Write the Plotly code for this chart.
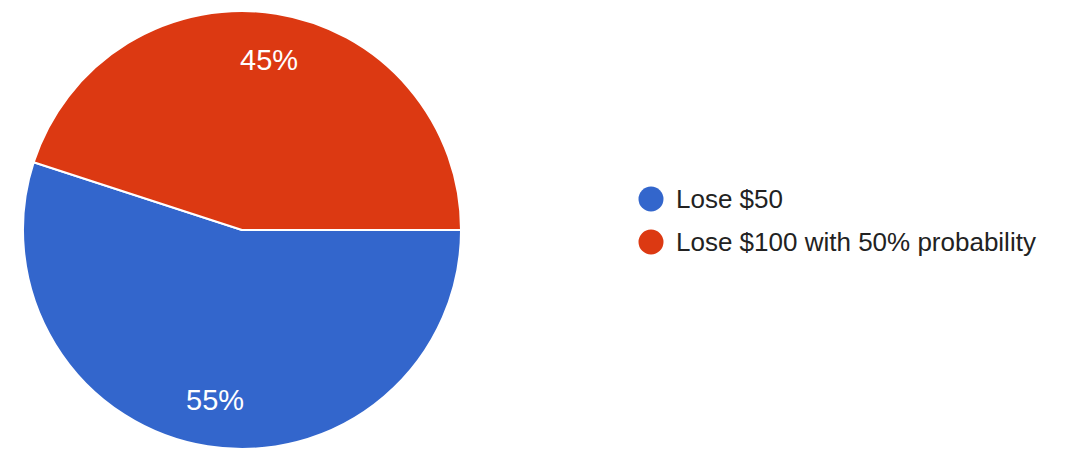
import math
import plotly.graph_objects as go

# Survey answers and their share of responses
categories = ["Lose $50", "Lose $100 with 50% probability"]
shares = [55, 45]
colors = ["#3366cc", "#dc3912"]

W, H = 1068, 449
FONT = "Liberation Sans, Arial, sans-serif"

# Pie geometry (pixels): centre and radius that follow from the domain below
cx_px, cy_px = 242, 230
dom_x = [0.0215, 0.4317]
dom_y = [0.0, 0.9756]
radius_px = min((dom_x[1] - dom_x[0]) * W, (dom_y[1] - dom_y[0]) * H) / 2
start_deg = 90  # first slice begins at 3 o'clock

fig = go.Figure()

fig.add_trace(go.Pie(
    labels=categories,
    values=shares,
    sort=False,
    direction="clockwise",
    rotation=start_deg,
    marker=dict(colors=colors, line=dict(color="white", width=2)),
    textinfo="none",
    showlegend=False,
    hoverinfo="label+percent",
    domain=dict(x=dom_x, y=dom_y),
))

annotations = []

# Percentage labels placed along each slice's bisector
total = sum(shares)
cum = 0
for v in shares:
    mid = (cum + v / 2) / total * 360  # degrees clockwise from 3 o'clock
    cum += v
    rr = 0.785 * radius_px
    x_px = cx_px + rr * math.cos(math.radians(mid))
    y_px = cy_px + rr * math.sin(math.radians(mid))
    annotations.append(dict(
        xref="paper", yref="paper", x=x_px / W, y=1 - y_px / H,
        xanchor="center", yanchor="middle", showarrow=False,
        text=f"{round(100 * v / total)}%",
        font=dict(family=FONT, size=29, color="white"),
    ))

# Legend drawn as circular swatches with labels on the right
shapes = []
legend_x = 651 / W
legend_top = 1 - 199 / H
row_step = 43 / H
r_x = 12.5 / W
r_y = 12.5 / H
for i, (name, col) in enumerate(zip(categories, colors)):
    yc = legend_top - i * row_step
    shapes.append(dict(
        type="circle", xref="paper", yref="paper",
        x0=legend_x - r_x, x1=legend_x + r_x,
        y0=yc - r_y, y1=yc + r_y,
        fillcolor=col, line=dict(width=0),
    ))
    annotations.append(dict(
        xref="paper", yref="paper", x=674 / W, y=yc,
        xanchor="left", yanchor="middle", showarrow=False,
        text=name,
        font=dict(family=FONT, size=26, color="#222222"),
    ))

fig.update_layout(
    width=W,
    height=H,
    margin=dict(l=0, r=0, t=0, b=0),
    paper_bgcolor="white",
    plot_bgcolor="white",
    shapes=shapes,
    annotations=annotations,
    showlegend=False,
)

fig.write_html("out.html")
